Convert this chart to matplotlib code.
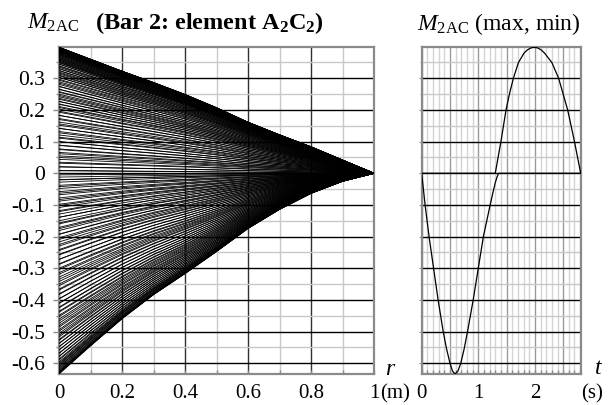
import matplotlib
matplotlib.use('Agg')
import matplotlib.pyplot as plt
from matplotlib.ticker import MultipleLocator, FixedLocator, FuncFormatter

plt.rcParams['font.family'] = ['Liberation Serif', 'DejaVu Serif']
plt.rcParams['mathtext.fontset'] = 'custom'
plt.rcParams['mathtext.rm'] = 'Liberation Serif'
plt.rcParams['mathtext.it'] = 'Liberation Serif:italic'
plt.rcParams['mathtext.bf'] = 'Liberation Serif:bold'
plt.rcParams['axes.unicode_minus'] = False

# ---------------- data ----------------
# positions along the bar (m)
r_pts = [0.0, 0.1, 0.2, 0.3, 0.4, 0.5, 0.6, 0.7, 0.8, 0.9, 1.0]
# shape of the moment distribution along r (relative to value at r=0)
shape_pos = [1.0, 0.905, 0.81, 0.72, 0.625, 0.52, 0.405, 0.305, 0.21, 0.105, 0.0]
shape_neg = [1.0, 0.86, 0.725, 0.605, 0.50, 0.39, 0.275, 0.18, 0.10, 0.04, 0.0]

# M2AC at r = 0 for each time step (one line per time step)
start_neg = [
    0.0, -0.021, -0.042, -0.063, -0.083, -0.102, -0.121, -0.139, -0.157, -0.175,
    -0.193, -0.209, -0.225, -0.241, -0.256, -0.272, -0.288, -0.304, -0.319, -0.335,
    -0.350, -0.366, -0.381, -0.396, -0.411, -0.425, -0.439, -0.453, -0.467, -0.481,
    -0.494, -0.506, -0.517, -0.528, -0.538, -0.548, -0.558, -0.569, -0.579, -0.590,
    -0.600, -0.606, -0.612, -0.619, -0.626, -0.629, -0.632, -0.633, -0.634, -0.632,
    -0.630, -0.626, -0.622, -0.616, -0.610, -0.603, -0.596, -0.587, -0.578, -0.568,
    -0.558, -0.548, -0.537, -0.525, -0.512, -0.499, -0.486, -0.474, -0.461, -0.449,
    -0.436, -0.423, -0.410, -0.397, -0.383, -0.369, -0.355, -0.342, -0.328, -0.314,
    -0.300, -0.286, -0.272, -0.258, -0.244, -0.230, -0.217, -0.204, -0.192, -0.181,
    -0.171, -0.160, -0.150, -0.139, -0.129, -0.118, -0.108, -0.098, -0.088, -0.078,
    -0.068, -0.058, -0.048, -0.038, -0.028, -0.020, -0.012, -0.005,
]
start_pos = [
    0.008, 0.020, 0.035, 0.050, 0.062, 0.075, 0.088, 0.100, 0.114, 0.128,
    0.142, 0.156, 0.170, 0.183, 0.196, 0.208, 0.218, 0.227, 0.237, 0.246,
    0.256, 0.265, 0.275, 0.285, 0.294, 0.303, 0.310, 0.317, 0.324, 0.331,
    0.338, 0.345, 0.350, 0.354, 0.358, 0.362, 0.366, 0.370, 0.374, 0.377,
    0.380, 0.382, 0.385, 0.387, 0.389, 0.391, 0.392, 0.393, 0.394, 0.395,
    0.396, 0.397, 0.398, 0.398, 0.398, 0.398, 0.398, 0.397, 0.396, 0.395,
    0.394, 0.393, 0.392, 0.391, 0.389, 0.387, 0.385, 0.383, 0.381, 0.378,
    0.376, 0.373, 0.370, 0.367, 0.364, 0.361, 0.358, 0.355, 0.352, 0.349,
    0.345, 0.340, 0.335, 0.330, 0.325, 0.320, 0.314, 0.308, 0.303, 0.297,
    0.289, 0.281, 0.274, 0.266, 0.258, 0.250, 0.242, 0.234, 0.227, 0.219,
    0.211, 0.203, 0.193, 0.183, 0.173, 0.162, 0.152, 0.142, 0.132, 0.121,
    0.111, 0.100, 0.089, 0.077, 0.066, 0.055, 0.044, 0.032, 0.021, 0.009,
]

# envelope over time (right panel)
t_min = [0.0, 0.03, 0.06, 0.13, 0.21, 0.29, 0.38, 0.44, 0.50, 0.545, 0.59, 0.64,
         0.69, 0.75, 0.81, 0.91, 1.00, 1.09, 1.21, 1.26, 1.30, 1.33, 1.36, 2.81]
m_min = [0.0, -0.05, -0.10, -0.20, -0.30, -0.40, -0.50, -0.555, -0.60, -0.625, -0.634, -0.625,
         -0.60, -0.555, -0.50, -0.40, -0.30, -0.20, -0.10, -0.06, -0.03, -0.012, 0.0, 0.0]
t_max = [0.0, 1.30, 1.35, 1.40, 1.49, 1.55, 1.62, 1.71, 1.81, 1.87, 1.93, 1.99,
         2.05, 2.11, 2.17, 2.30, 2.42, 2.50, 2.58, 2.70, 2.81]
m_max = [0.0, 0.0, 0.05, 0.10, 0.20, 0.25, 0.30, 0.35, 0.38, 0.39, 0.396, 0.398,
         0.396, 0.39, 0.38, 0.35, 0.30, 0.25, 0.20, 0.10, 0.0]

y_ticks = [-0.6, -0.5, -0.4, -0.3, -0.2, -0.1, 0.0, 0.1, 0.2, 0.3]
r_ticks = [0.0, 0.2, 0.4, 0.6, 0.8, 1.0]

# ---------------- figure ----------------
W, H = 614, 405
fig = plt.figure(figsize=(W / 100, H / 100), dpi=100)

def fx(x):
    return x / W

def fy(y):
    return 1 - y / H

ylo, yhi = -0.634, 0.398
ax1 = fig.add_axes([fx(59), fy(374), (374 - 59) / W, (374 - 47.3) / H])
ax2 = fig.add_axes([fx(421.7), fy(374), (580.7 - 421.7) / W, (374 - 47.3) / H])

spine_col = '#8a8a8a'
TICK_FS = 15
for ax in (ax1, ax2):
    ax.set_ylim(ylo, yhi)
    ax.yaxis.set_major_locator(FixedLocator(y_ticks))
    ax.yaxis.set_minor_locator(MultipleLocator(0.05))
    ax.grid(which='major', axis='y', color='black', lw=1.0, zorder=0)
    ax.grid(which='minor', axis='y', color='#c8c8c8', lw=1.0, zorder=0)
    ax.set_axisbelow(True)
    for s in ax.spines.values():
        s.set_color(spine_col)
        s.set_linewidth(1.6)

# left panel: one line per time step
for v in start_neg + start_pos:
    shape = shape_pos if v >= 0 else shape_neg
    ax1.plot(r_pts, [v * s for s in shape], color='black', lw=0.6, zorder=3)

ax1.set_xlim(0, 1)
ax1.xaxis.set_major_locator(FixedLocator(r_ticks))
ax1.xaxis.set_minor_locator(MultipleLocator(0.1))
ax1.grid(which='major', axis='x', color='#303030', lw=1.0, zorder=0)
ax1.grid(which='minor', axis='x', color='#c8c8c8', lw=1.0, zorder=0)

def yfmt(v, pos):
    if abs(v) < 1e-9:
        return '0'
    return '%.1f' % v

def rfmt(v, pos):
    if abs(v) < 1e-9:
        return '0'
    if abs(v - 1) < 1e-9:
        return '1'
    return '%.1f' % v

ax1.yaxis.set_major_formatter(FuncFormatter(yfmt))
ax1.xaxis.set_major_formatter(FuncFormatter(rfmt))
ax1.tick_params(axis='y', which='major', direction='out', length=4, width=1,
                color=spine_col, labelsize=15.5, pad=6)
ax1.tick_params(axis='y', which='minor', direction='out', length=2, width=1, color=spine_col)
ax1.tick_params(axis='x', which='both', direction='in', length=3, width=1,
                color=spine_col, labelsize=TICK_FS, pad=7.5)

# right panel
ax2.plot(t_min, m_min, color='black', lw=0.9, zorder=3)
ax2.plot(t_max, m_max, color='black', lw=0.9, zorder=3)
ax2.set_xlim(0, 2.81)
ax2.xaxis.set_major_locator(MultipleLocator(0.5))
ax2.xaxis.set_minor_locator(MultipleLocator(0.1))
ax2.grid(which='major', axis='x', color='#9a9a9a', lw=1.0, zorder=0)
ax2.grid(which='minor', axis='x', color='#d4d4d4', lw=1.0, zorder=0)

def tfmt(v, pos):
    if abs(v - round(v)) < 1e-9:
        return '%d' % round(v)
    return ''

ax2.xaxis.set_major_formatter(FuncFormatter(tfmt))
ax2.yaxis.set_major_formatter(FuncFormatter(lambda v, p: ''))
ax2.tick_params(axis='y', which='major', direction='out', length=2, width=1, color='#7aa6d6')
ax2.tick_params(axis='y', which='minor', direction='out', length=1.5, width=1, color='#b0c8e0')
ax2.tick_params(axis='x', which='both', direction='in', length=3, width=1,
                color=spine_col, labelsize=TICK_FS, pad=7.5)

# titles and axis labels
fig.text(fx(27), fy(29), r'$M_{\mathrm{2AC}}$', fontsize=17, va='baseline', ha='left')
fig.text(fx(95), fy(29), r'(Bar 2: element A$_{\mathbf{2}}$C$_{\mathbf{2}}$)',
         fontsize=17.5, fontweight='bold', va='baseline', ha='left')
fig.text(fx(417), fy(30), r'$M_{\mathrm{2AC}}$ (max, min)', fontsize=17,
         va='baseline', ha='left')
fig.text(fx(390), fy(375), 'r', fontsize=17, style='italic', va='baseline', ha='center')
fig.text(fx(380), fy(398), '(m)', fontsize=TICK_FS, va='baseline', ha='left')
fig.text(fx(598), fy(374), 't', fontsize=17, style='italic', va='baseline', ha='center')
fig.text(fx(592), fy(398), '(s)', fontsize=TICK_FS, va='baseline', ha='center')

fig.savefig('out.png', dpi=100)
